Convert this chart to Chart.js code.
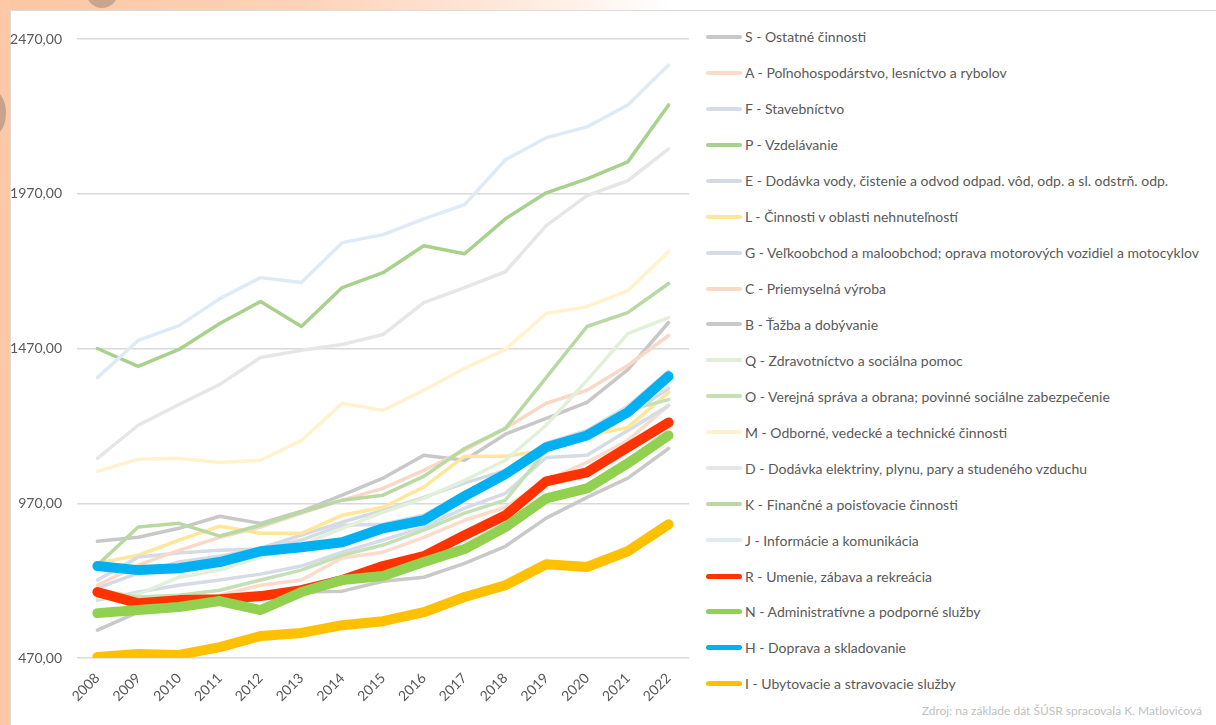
<!DOCTYPE html>
<html>
<head>
<meta charset="utf-8">
<script src="https://cdn.jsdelivr.net/npm/chart.js@4.4.0/dist/chart.umd.min.js"></script>
<style>
html, body { margin: 0; padding: 0; width: 1216px; height: 725px; overflow: hidden; }
body { position: relative; font-family: Lato, "Open Sans", sans-serif;
  background: linear-gradient(to right, #fcc6a2 0%, #fdd3b8 25%, #fee9dc 42%, #ffffff 55%); }
#leftstrip { position: absolute; left: 0; top: 0; width: 10px; height: 725px; background: #fcc8a6; }
.blob { position: absolute; background: #c9a48f; border-radius: 50%; }
#panel { position: absolute; left: 10px; top: 10px; right: 0; bottom: 0; background: #fff;
  border-left: 1px solid #dcdcdc; border-top: 1px solid #dcdcdc; }
#wrap { position: absolute; left: 10px; top: 10px; width: 690px; height: 715px; }
#legend { position: absolute; left: 706px; top: 19px; }
.item { height: 35.94px; display: flex; align-items: center; font-size: 14px; color: #595959; white-space: nowrap; }
.swatch { display: inline-block; width: 36px; border-radius: 3px; margin-right: 3px; }
#source { position: absolute; right: 14px; bottom: 7px; font-size: 12px; color: #bfbfbf; }
</style>
</head>
<body>
<div id="leftstrip"></div>
<div class="blob" style="left:86px;top:-24px;width:32px;height:32px;"></div>
<div class="blob" style="left:-16px;top:92px;width:22px;height:42px;background:#c8a28c;"></div>
<div id="panel"></div>
<div id="wrap"><canvas id="myChart"></canvas></div>
<div id="legend"></div>
<div id="source">Zdroj: na základe dát ŠÚSR spracovala K. Matlovičová</div>
<script>
let years = ['2008', '2009', '2010', '2011', '2012', '2013', '2014', '2015', '2016', '2017', '2018', '2019', '2020', '2021', '2022'];
let yTicks = [470, 970, 1470, 1970, 2470];

let names = [
    'S - Ostatné činnosti',
    'A - Poľnohospodárstvo, lesníctvo a rybolov',
    'F - Stavebníctvo',
    'P - Vzdelávanie',
    'E - Dodávka vody, čistenie a odvod odpad. vôd, odp. a sl. odstrň. odp.',
    'L - Činnosti v oblasti nehnuteľností',
    'G - Veľkoobchod a maloobchod; oprava motorových vozidiel a motocyklov',
    'C - Priemyselná výroba',
    'B - Ťažba a dobývanie',
    'Q - Zdravotníctvo a sociálna pomoc',
    'O - Verejná správa a obrana; povinné sociálne zabezpečenie',
    'M - Odborné, vedecké a technické činnosti',
    'D - Dodávka elektriny, plynu, pary a studeného vzduchu',
    'K - Finančné a poisťovacie činnosti',
    'J - Informácie a komunikácia',
    'R - Umenie, zábava a rekreácia',
    'N - Administratívne a podporné služby',
    'H - Doprava a skladovanie',
    'I - Ubytovacie a stravovacie služby'
];

let valS = [847, 860, 889, 928, 905, 944, 996, 1051, 1125, 1109, 1193, 1244, 1296, 1402, 1554];
let valA = [618, 618, 647, 673, 705, 722, 793, 812, 860, 915, 957, 1044, 1102, 1173, 1286];
let valF = [657, 683, 705, 722, 741, 767, 812, 851, 893, 954, 1002, 1118, 1125, 1205, 1286];
let valP = [1470, 1412, 1467, 1551, 1622, 1541, 1667, 1715, 1802, 1776, 1889, 1973, 2018, 2073, 2257];
let valE = [696, 744, 780, 799, 825, 867, 909, 947, 989, 1035, 1076, 1147, 1189, 1254, 1341];
let valL = [776, 802, 851, 896, 873, 873, 931, 957, 1022, 1122, 1122, 1141, 1189, 1215, 1328];
let valG = [722, 796, 809, 818, 822, 851, 899, 902, 931, 1005, 1064, 1164, 1205, 1283, 1396];
let valC = [705, 770, 818, 860, 893, 938, 980, 1018, 1076, 1141, 1212, 1293, 1335, 1415, 1512];
let valB = [560, 618, 641, 657, 673, 683, 686, 718, 731, 776, 831, 922, 989, 1051, 1147];
let valQ = [664, 676, 731, 754, 796, 835, 889, 941, 986, 1044, 1109, 1222, 1367, 1518, 1570];
let valO = [689, 667, 673, 689, 722, 754, 802, 835, 883, 938, 980, 1141, 1196, 1270, 1305];
let valM = [1073, 1112, 1115, 1102, 1109, 1173, 1293, 1270, 1335, 1406, 1467, 1583, 1605, 1657, 1783];
let valD = [1115, 1222, 1289, 1354, 1441, 1464, 1483, 1515, 1618, 1667, 1718, 1867, 1964, 2012, 2115];
let valK = [770, 893, 905, 864, 899, 941, 980, 996, 1057, 1147, 1212, 1376, 1541, 1586, 1680];
let valJ = [1376, 1496, 1544, 1631, 1699, 1683, 1812, 1838, 1889, 1935, 2080, 2151, 2186, 2257, 2386];
let valR = [683, 647, 657, 660, 670, 689, 722, 767, 799, 867, 931, 1041, 1070, 1151, 1231];
let valN = [615, 625, 635, 654, 625, 683, 722, 735, 780, 822, 893, 986, 1018, 1099, 1189];
let valH = [767, 754, 760, 780, 815, 828, 844, 889, 915, 993, 1064, 1151, 1189, 1264, 1380];
let valI = [473, 483, 480, 505, 541, 551, 576, 589, 618, 667, 705, 773, 764, 815, 902];

let values = [valS, valA, valF, valP, valE, valL, valG, valC, valB, valQ, valO, valM, valD, valK, valJ, valR, valN, valH, valI];

let colors = ['#c8c8c8', '#fbdccb', '#d6dce5', '#a9d18e', '#d3dae4', '#ffe699', '#d6dce5', '#f9d9c6', '#c9c9c9',
    '#e2f0d9', '#c5e0b4', '#fff2cc', '#e7e6e6', '#b8daa2', '#deebf7', '#ff3300', '#92d050', '#00b0f0', '#ffc000'];
let thickLines = ['R', 'N', 'H', 'I'];

let datasets = names.map(function(name, i){
    let thick = thickLines.indexOf(name.charAt(0)) >= 0;
    return {
        label: name,
        data: values[i],
        borderColor: colors[i],
        backgroundColor: colors[i],
        borderWidth: thick ? 10 : 3.5,
        borderCapStyle: 'round',
        borderJoinStyle: 'round',
        pointRadius: 0,
        tension: 0,
        order: names.length - i
    };
});

let ctx = document.getElementById('myChart').getContext('2d');
let myChart = new Chart(ctx, {
    type: 'line',
    data: { labels: years, datasets: datasets },
    options: {
        responsive: true,
        maintainAspectRatio: false,
        animation: false,
        layout: { padding: { top: 29, right: 11, left: 0, bottom: 0 } },
        plugins: { legend: { display: false }, tooltip: { enabled: false } },
        scales: {
            x: {
                offset: true,
                grid: { display: false },
                border: { display: false },
                ticks: { color: '#595959', font: { size: 14, family: 'Lato' }, maxRotation: 45, minRotation: 45, padding: 4 },
                afterFit: function(s){ s.height = 67; }
            },
            y: {
                min: yTicks[0],
                max: yTicks[yTicks.length - 1],
                afterBuildTicks: function(s){ s.ticks = yTicks.map(function(v){ return { value: v }; }); },
                grid: { color: '#d9d9d9', lineWidth: 1.5, drawTicks: false },
                border: { display: false },
                ticks: {
                    color: '#595959', font: { size: 14, family: 'Lato' }, padding: 15,
                    callback: function(v){ return Number(v).toFixed(2).replace('.', ','); }
                },
                afterFit: function(s){ s.width = 67; }
            }
        }
    }
});

// legend from the chart's own datasets
let legend = document.getElementById('legend');
myChart.data.datasets.forEach(function(ds){
    let row = document.createElement('div');
    row.className = 'item';
    let sw = document.createElement('span');
    sw.className = 'swatch';
    sw.style.background = ds.borderColor;
    sw.style.height = ds.borderWidth > 5 ? '5px' : '4px';
    row.appendChild(sw);
    row.appendChild(document.createTextNode(ds.label));
    legend.appendChild(row);
});
</script>
</body>
</html>
